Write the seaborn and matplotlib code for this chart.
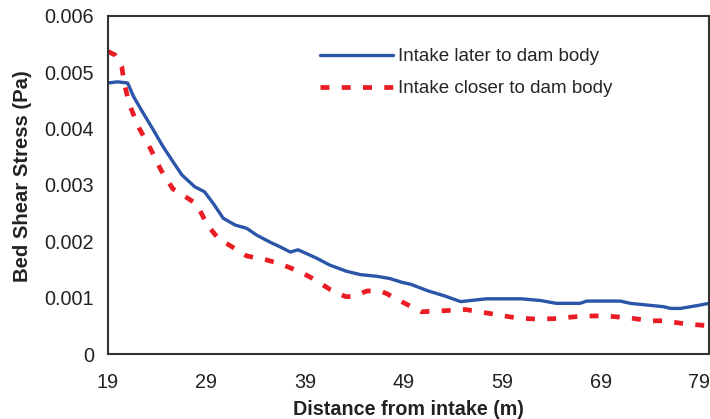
import matplotlib
matplotlib.use("Agg")
import matplotlib.pyplot as plt
import seaborn as sns

# Bed shear stress along the channel
later_x = [19, 20, 21, 21.6, 22.6, 23.6, 24.6, 25.5, 26.5, 27.8, 28.8, 29.7, 30.7,
           31.9, 33.1, 34.1, 35.4, 36.5, 37.5, 38.3, 40.2, 41.5, 43.2, 44.6, 46.3,
           47.6, 48.9, 49.7, 51.5, 53.2, 54.8, 55.8, 57.4, 61.0, 62.9, 64.5, 66.9,
           67.6, 71.0, 72.0, 75.4, 76.1, 77.1, 78.8, 80]
later_y = [0.00481, 0.00483, 0.00481, 0.00457, 0.00427, 0.00398, 0.00368, 0.00344,
           0.00318, 0.00297, 0.00288, 0.00267, 0.00241, 0.00229, 0.00223, 0.00211,
           0.00199, 0.00190, 0.00181, 0.00185, 0.00170, 0.00158, 0.00147, 0.00141,
           0.00138, 0.00134, 0.00127, 0.00124, 0.00112, 0.00103, 0.00093, 0.00095,
           0.00098, 0.00098, 0.00095, 0.00090, 0.00090, 0.00094, 0.00094, 0.00090,
           0.00084, 0.00081, 0.00081, 0.00086, 0.00090]

closer_x = [19, 19.7, 20.4, 20.7, 21.2, 22.1, 23.3, 24.4, 25.6, 26.8, 28.0, 29.1,
            30.2, 32.1, 33.1, 35.1, 36.5, 38.5, 39.8, 41.6, 43.1, 43.8, 45.3, 46.6,
            47.2, 48.8, 50.8, 53.2, 55.3, 56.3, 58.1, 60.5, 62.5, 64.5, 66.9, 69.3,
            72.0, 74.0, 75.4, 77.4, 80]
closer_y = [0.00537, 0.00531, 0.00510, 0.00477, 0.00442, 0.00403, 0.00365, 0.00326,
            0.00293, 0.00280, 0.00266, 0.00229, 0.00205, 0.00185, 0.00174, 0.00167,
            0.00160, 0.00146, 0.00134, 0.00114, 0.00102, 0.00102, 0.00112, 0.00112,
            0.00108, 0.00093, 0.00075, 0.00077, 0.00079, 0.00076, 0.00071, 0.00064,
            0.00062, 0.00063, 0.00067, 0.00068, 0.00064, 0.00059, 0.00059, 0.00054,
            0.00050]

x_ticks = [19, 29, 39, 49, 59, 69, 79]
y_ticks = [0, 0.001, 0.002, 0.003, 0.004, 0.005, 0.006]
y_tick_labels = ['0', '0.001', '0.002', '0.003', '0.004', '0.005', '0.006']

sns.set_style("white")
plt.rcParams['font.family'] = ['Liberation Sans', 'DejaVu Sans']

fig = plt.figure(figsize=(7.1, 4.19), dpi=100)
ax = fig.add_axes([0.152, 0.155, 0.8466, 0.807])

sns.lineplot(x=later_x, y=later_y, ax=ax, color='#2b55a8', linewidth=2.4,
             sort=False, estimator=None, label='Intake later to dam body')
sns.lineplot(x=closer_x, y=closer_y, ax=ax, color='#ec1c24', linewidth=3.4,
             sort=False, estimator=None, label='Intake closer to dam body')
ax.lines[1].set_dashes((1.9, 2.6))

ax.set_xlim(19, 80)
ax.set_ylim(0, 0.006)
ax.set_xticks(x_ticks)
ax.set_yticks(y_ticks)
ax.set_yticklabels(y_tick_labels)
ax.tick_params(axis='both', labelsize=14.3, colors='#222222', length=4,
               width=1.2, direction='out')
ax.tick_params(axis='x', pad=10)
ax.tick_params(axis='y', pad=6)
ax.tick_params(axis='both', color='#777777')
for s in ax.spines.values():
    s.set_color('#333333')
    s.set_linewidth(1.5)

ax.set_xlabel('Distance from intake (m)', fontsize=14.2, fontweight='bold',
              color='#222222')
ax.set_ylabel('Bed Shear Stress (Pa)', fontsize=14.6, fontweight='bold',
              color='#222222')
ax.xaxis.set_label_coords(0.5, -0.135)
ax.yaxis.set_label_coords(-0.127, 0.525)

ax.legend(loc='upper left', bbox_to_anchor=(0.353, 0.905), frameon=False,
          borderaxespad=0, borderpad=0, fontsize=13.5, handlelength=3.9,
          handletextpad=0.27, labelspacing=0.8)

plt.savefig('out.png', dpi=100)
